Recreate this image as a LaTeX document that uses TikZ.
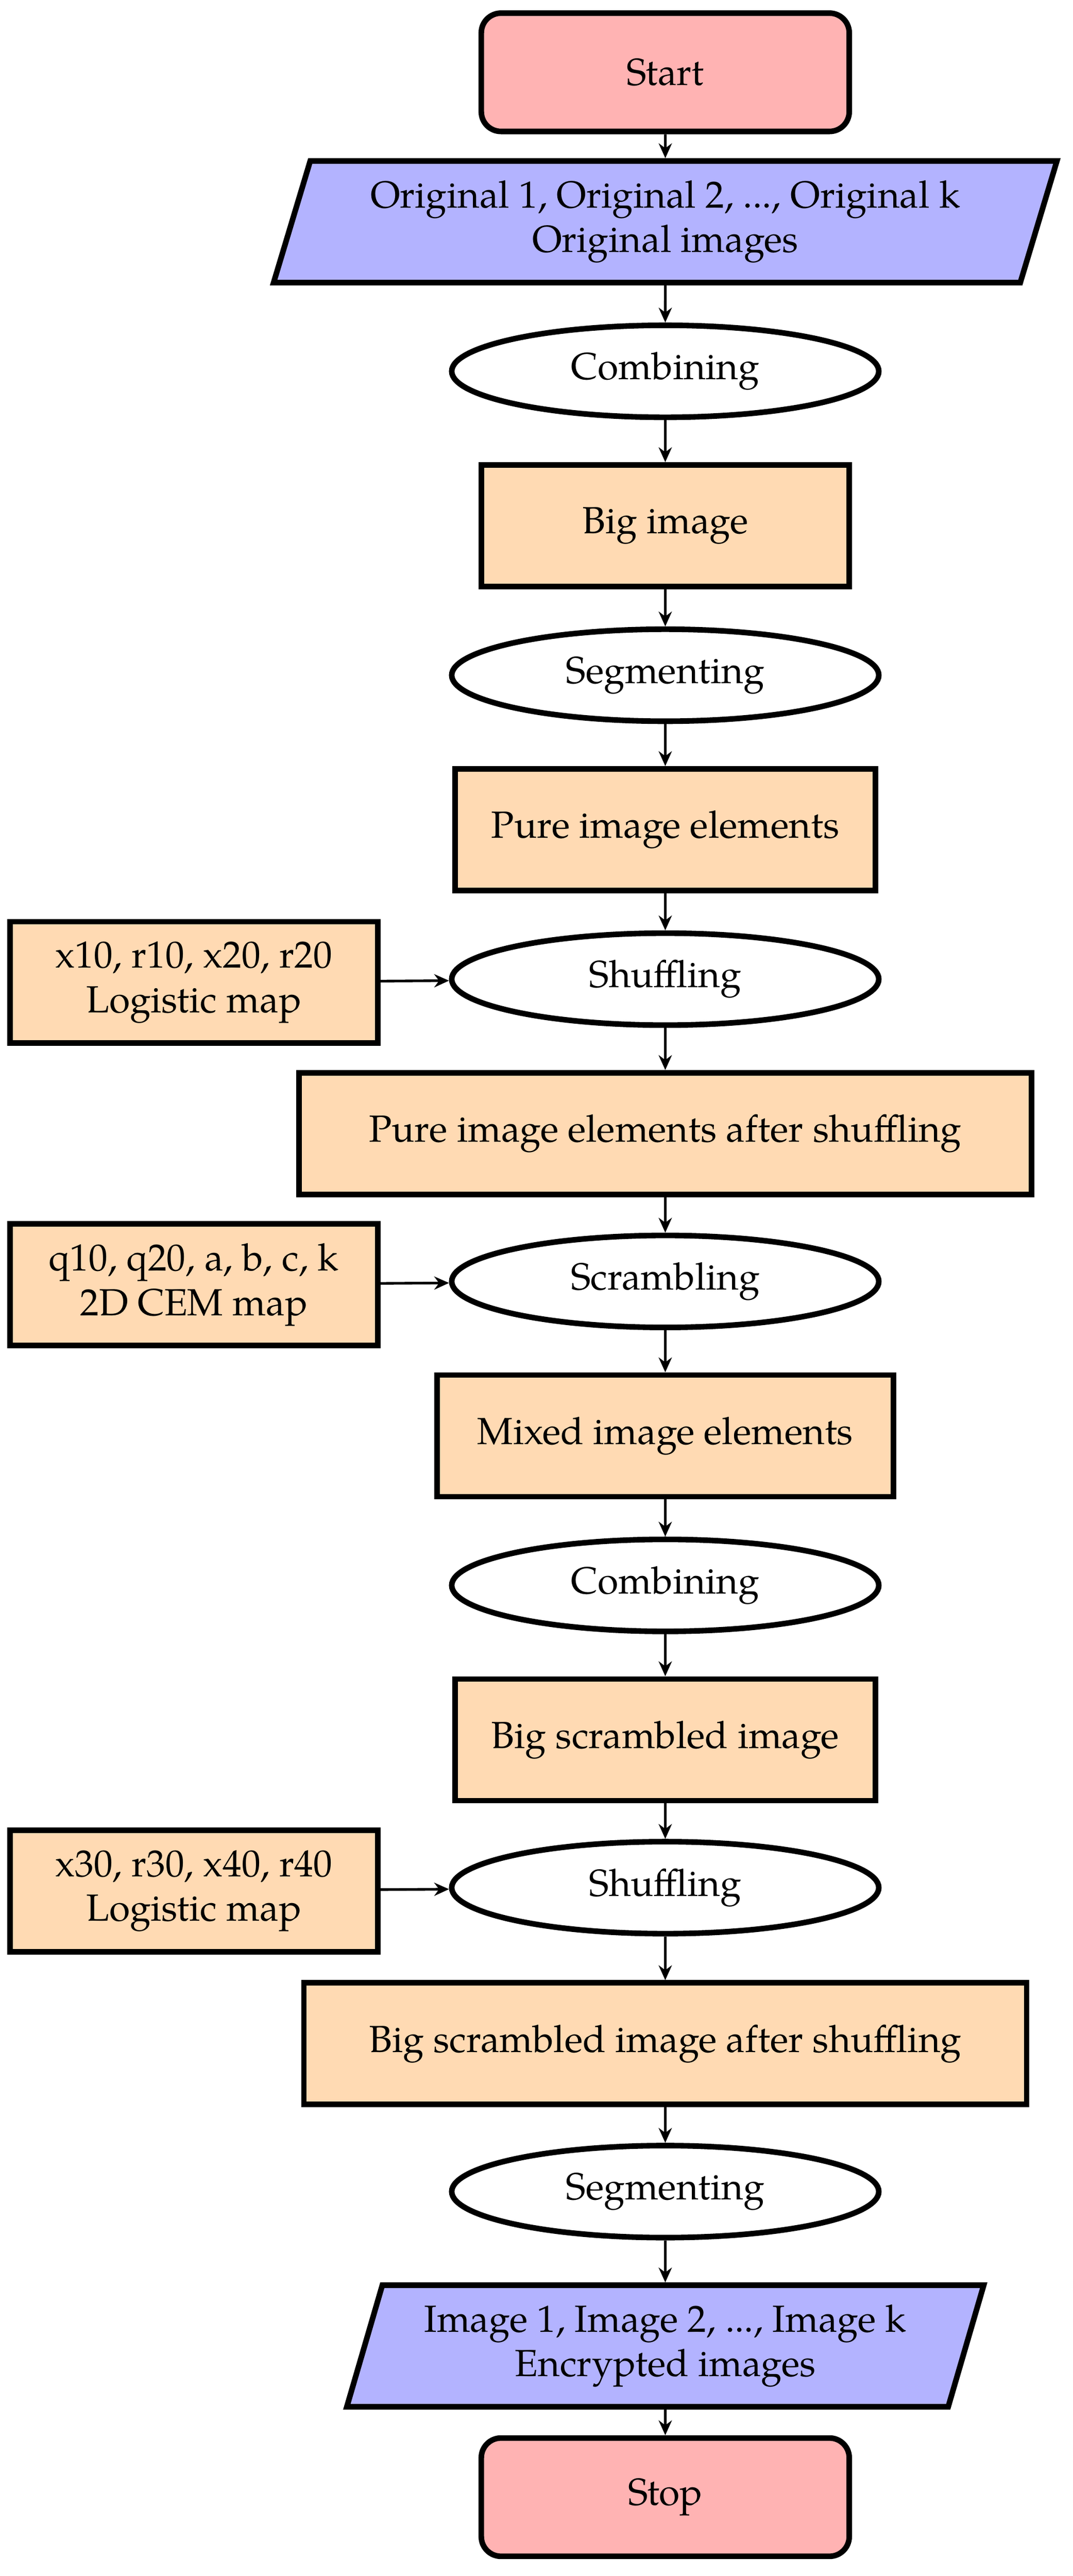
\documentclass[tikz,border=0pt]{standalone}
\usepackage{fontspec}
\setmainfont{TeX Gyre Pagella}
\usetikzlibrary{shapes.geometric,arrows.meta}
\definecolor{pinkf}{HTML}{FFB3B3}
\definecolor{bluef}{HTML}{B3B3FF}
\definecolor{peach}{HTML}{FFDAB3}
\begin{document}
\begin{tikzpicture}[x=0.5pt,y=-0.5pt,font=\fontsize{11.5}{13.5}\selectfont,
  base/.style={draw,line width=1.7pt,align=center,inner sep=2pt},
  term/.style={base,rounded corners=6pt,fill=pinkf,minimum width=112pt,minimum height=36pt},
  io/.style={base,trapezium,trapezium left angle=72,trapezium right angle=108,trapezium stretches=true,fill=bluef,minimum height=37pt},
  proc/.style={base,fill=peach,minimum height=37pt},
  op/.style={base,ellipse,fill=white,minimum width=130pt,minimum height=28pt},
  arr/.style={-{Stealth[length=4.5pt,width=4pt]},line width=0.8pt}]
\useasboundingbox (0,0) rectangle (653,1568);
\node[term] (start) at (405,44) {Start};
\node[io,minimum width=239pt] (in) at (405,135) {Original 1, Original 2, ..., Original k\\Original images};
\node[op] (c1) at (405,226) {Combining};
\node[proc,minimum width=112pt] (big) at (405,320) {Big image};
\node[op] (s1) at (405,411) {Segmenting};
\node[proc,minimum width=128pt] (pure) at (405,505) {Pure image elements};
\node[op] (sh1) at (405,596) {Shuffling};
\node[proc,minimum width=112pt] (k1) at (118,598) {x10, r10, x20, r20\\Logistic map};
\node[proc,minimum width=223pt] (pas) at (405,690) {Pure image elements after shuffling};
\node[op] (scr) at (405,780) {Scrambling};
\node[proc,minimum width=112pt] (k2) at (118,782) {q10, q20, a, b, c, k\\2D CEM map};
\node[proc,minimum width=139pt] (mix) at (405,874) {Mixed image elements};
\node[op] (c2) at (405,965) {Combining};
\node[proc,minimum width=128pt] (bsi) at (405,1059) {Big scrambled image};
\node[op] (sh2) at (405,1149) {Shuffling};
\node[proc,minimum width=112pt] (k3) at (118,1151) {x30, r30, x40, r40\\Logistic map};
\node[proc,minimum width=220pt] (bsa) at (405,1244) {Big scrambled image after shuffling};
\node[op] (s2) at (405,1334) {Segmenting};
\node[io,minimum width=194pt] (out) at (405,1428) {Image 1, Image 2, ..., Image k\\Encrypted images};
\node[term] (stop) at (405,1520) {Stop};
\foreach \a/\b in {start/in,in/c1,c1/big,big/s1,s1/pure,pure/sh1,sh1/pas,pas/scr,scr/mix,mix/c2,c2/bsi,bsi/sh2,sh2/bsa,bsa/s2,s2/out,out/stop}
  \draw[arr] (\a) -- (\b);
\draw[arr] (k1) -- (sh1);
\draw[arr] (k2) -- (scr);
\draw[arr] (k3) -- (sh2);
\end{tikzpicture}
\end{document}
